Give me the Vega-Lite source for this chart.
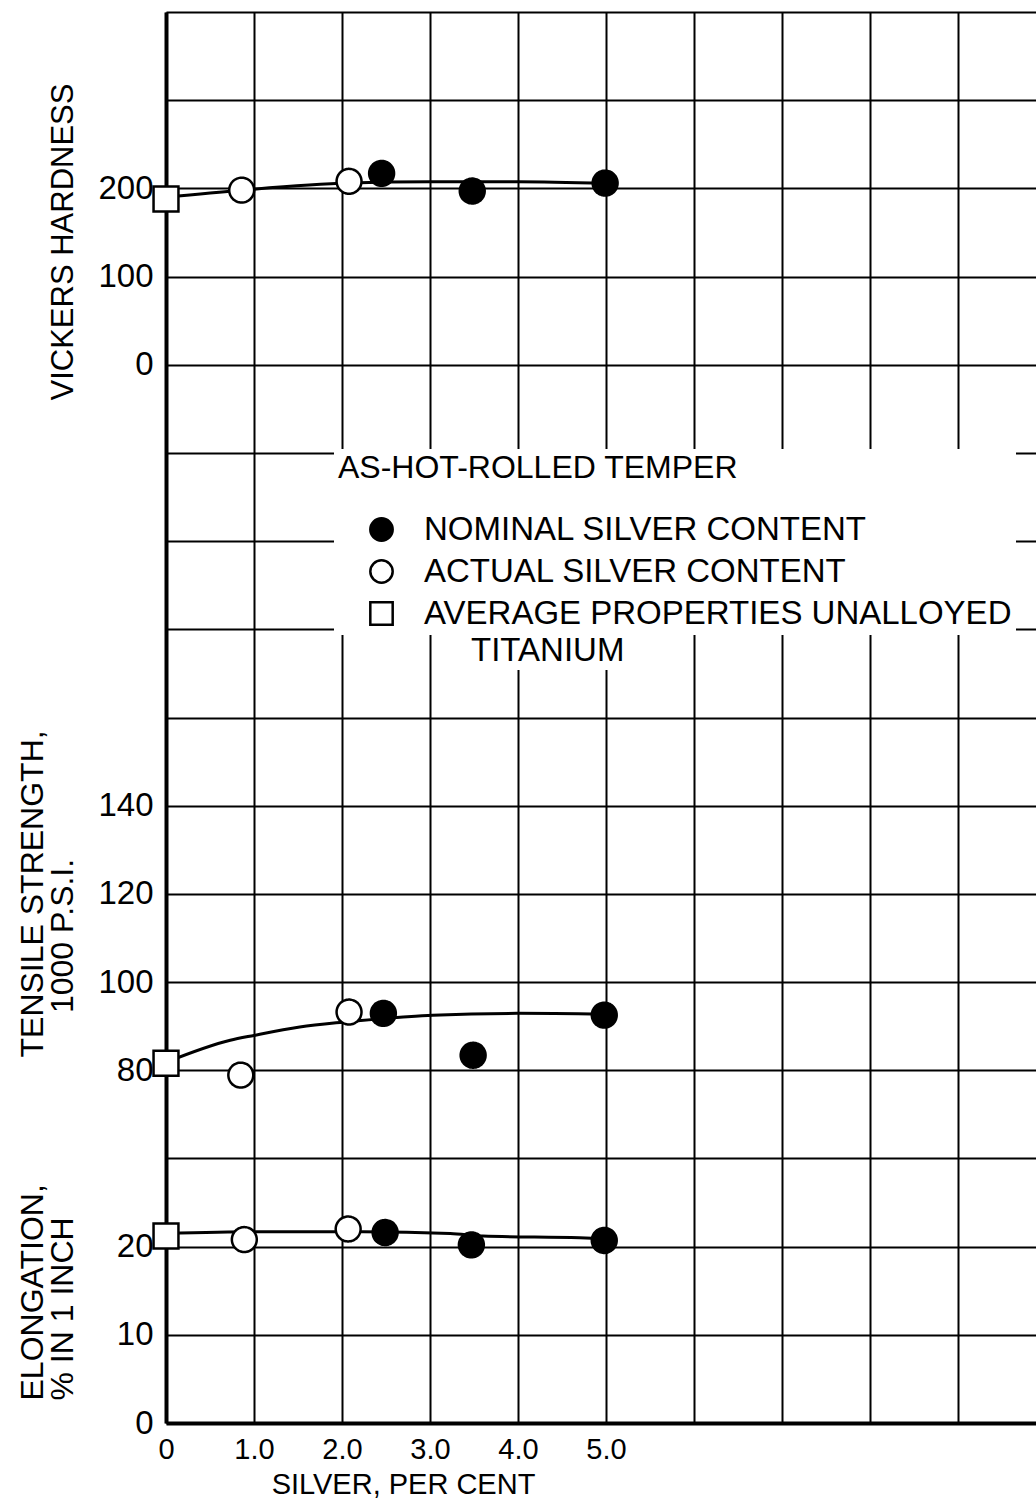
{
  "$schema": "https://vega.github.io/schema/vega-lite/v6.json",
  "autosize": {"type": "none"},
  "padding": {"left": 166, "top": 12, "right": 0, "bottom": 85},
  "width": 870,
  "height": 1411,
  "background": "white",
  "config": {
    "view": {"stroke": null},
    "font": "Liberation Sans",
    "axis": {
      "labelFont": "Liberation Sans", "titleFont": "Liberation Sans",
      "labelColor": "black", "titleColor": "black", "titleFontWeight": "normal",
      "ticks": false, "tickSize": 0, "labelFlush": false, "labelOverlap": false,
      "gridColor": "black", "gridWidth": 2, "gridOpacity": 1,
      "domainColor": "black", "domainWidth": 4
    },
    "legend": {
      "labelFont": "Liberation Sans", "titleFont": "Liberation Sans",
      "labelColor": "black", "titleColor": "black", "titleFontWeight": "normal",
      "labelLimit": 0, "titleLimit": 0,
      "symbolStrokeColor": "black", "symbolStrokeWidth": 2.5
    }
  },
  "datasets": {
    "points": [
      {"prop": "hv", "silver": 0, "type": "AVERAGE PROPERTIES UNALLOYED TITANIUM", "value": 188},
      {"prop": "hv", "silver": 0.86, "type": "ACTUAL SILVER CONTENT", "value": 198},
      {"prop": "hv", "silver": 2.08, "type": "ACTUAL SILVER CONTENT", "value": 208},
      {"prop": "hv", "silver": 2.45, "type": "NOMINAL SILVER CONTENT", "value": 217},
      {"prop": "hv", "silver": 3.48, "type": "NOMINAL SILVER CONTENT", "value": 197},
      {"prop": "hv", "silver": 4.99, "type": "NOMINAL SILVER CONTENT", "value": 206},
      {"prop": "ts", "silver": 0, "type": "AVERAGE PROPERTIES UNALLOYED TITANIUM", "value": 81.6},
      {"prop": "ts", "silver": 0.85, "type": "ACTUAL SILVER CONTENT", "value": 78.9},
      {"prop": "ts", "silver": 2.08, "type": "ACTUAL SILVER CONTENT", "value": 93.2},
      {"prop": "ts", "silver": 2.47, "type": "NOMINAL SILVER CONTENT", "value": 92.9},
      {"prop": "ts", "silver": 3.49, "type": "NOMINAL SILVER CONTENT", "value": 83.4},
      {"prop": "ts", "silver": 4.98, "type": "NOMINAL SILVER CONTENT", "value": 92.5},
      {"prop": "el", "silver": 0, "type": "AVERAGE PROPERTIES UNALLOYED TITANIUM", "value": 21.2},
      {"prop": "el", "silver": 0.89, "type": "ACTUAL SILVER CONTENT", "value": 20.8},
      {"prop": "el", "silver": 2.07, "type": "ACTUAL SILVER CONTENT", "value": 22.0},
      {"prop": "el", "silver": 2.49, "type": "NOMINAL SILVER CONTENT", "value": 21.6},
      {"prop": "el", "silver": 3.47, "type": "NOMINAL SILVER CONTENT", "value": 20.2},
      {"prop": "el", "silver": 4.98, "type": "NOMINAL SILVER CONTENT", "value": 20.7}
    ],
    "curves": [
      {"prop": "hv", "silver": 0, "value": 190},
      {"prop": "hv", "silver": 0.86, "value": 198},
      {"prop": "hv", "silver": 2.08, "value": 206},
      {"prop": "hv", "silver": 3.0, "value": 207.5},
      {"prop": "hv", "silver": 4.0, "value": 207.5},
      {"prop": "hv", "silver": 5.0, "value": 205.5},
      {"prop": "ts", "silver": 0, "value": 81.8},
      {"prop": "ts", "silver": 0.73, "value": 86.8},
      {"prop": "ts", "silver": 1.0, "value": 87.9},
      {"prop": "ts", "silver": 1.52, "value": 89.8},
      {"prop": "ts", "silver": 2.01, "value": 90.9},
      {"prop": "ts", "silver": 2.66, "value": 92.0},
      {"prop": "ts", "silver": 3.03, "value": 92.5},
      {"prop": "ts", "silver": 3.99, "value": 92.9},
      {"prop": "ts", "silver": 5.0, "value": 92.7},
      {"prop": "el", "silver": 0, "value": 21.5},
      {"prop": "el", "silver": 1.0, "value": 21.7},
      {"prop": "el", "silver": 2.24, "value": 21.7},
      {"prop": "el", "silver": 3.23, "value": 21.5},
      {"prop": "el", "silver": 3.6, "value": 21.2},
      {"prop": "el", "silver": 4.7, "value": 21.0},
      {"prop": "el", "silver": 5.0, "value": 20.9}
    ]
  },
  "encoding": {
    "x": {
      "field": "silver", "type": "quantitative",
      "scale": {"domain": [0, 9.886], "nice": false, "zero": false},
      "axis": {
        "values": [0, 1, 2, 3, 4, 5, 6, 7, 8, 9],
        "labelExpr": "datum.value > 5 ? '' : (datum.value == 0 ? '0' : format(datum.value, '.1f'))",
        "grid": true, "labelFontSize": 29, "labelPadding": 12,
        "title": "SILVER, PER CENT", "titleFontSize": 29,
        "titleX": 237, "titleY": 70, "titleAlign": "center", "titleBaseline": "alphabetic"
      }
    }
  },
  "layer": [
    {
      "encoding": {
        "y": {
          "field": "value", "type": "quantitative",
          "scale": {"domain": [-1200, 400], "nice": false, "zero": false},
          "axis": {
            "orient": "left", "values": [0, 100, 200], "grid": false, "domain": false,
            "labelFontSize": 33, "labelPadding": 13,
            "title": "VICKERS HARDNESS", "titleFontSize": 31, "titleAngle": 270,
            "titleAlign": "left", "titleBaseline": "alphabetic", "titleX": -94, "titleY": 388
          }
        }
      },
      "layer": [
        {
          "data": {"name": "curves"},
          "transform": [{"filter": "datum.prop == 'hv'"}],
          "mark": {"type": "line", "interpolate": "monotone", "color": "black", "strokeWidth": 3}
        },
        {
          "data": {"name": "points"},
          "transform": [{"filter": "datum.prop == 'hv'"}],
          "mark": {"type": "point", "filled": true, "size": 620, "strokeWidth": 2.5, "opacity": 1},
          "encoding": {
            "fill": {"field": "type", "type": "nominal",
              "scale": {"domain": ["NOMINAL SILVER CONTENT", "ACTUAL SILVER CONTENT", "AVERAGE PROPERTIES UNALLOYED TITANIUM"], "range": ["black", "white", "white"]},
              "legend": {"orient": "none", "direction": "vertical", "legendX": 168, "legendY": 437, "title": "AS-HOT-ROLLED TEMPER", "titleFontSize": 32, "labelFontSize": 33, "labelExpr": "datum.label == 'AVERAGE PROPERTIES UNALLOYED TITANIUM' ? 'AVERAGE PROPERTIES UNALLOYED' : datum.label", "fillColor": "white", "padding": 4, "symbolSize": 500, "rowPadding": 8, "titlePadding": 28, "labelOffset": 26, "symbolOffset": 27}},
            "shape": {"field": "type", "type": "nominal",
              "scale": {"domain": ["NOMINAL SILVER CONTENT", "ACTUAL SILVER CONTENT", "AVERAGE PROPERTIES UNALLOYED TITANIUM"], "range": ["circle", "circle", "square"]},
              "legend": {"orient": "none", "direction": "vertical", "legendX": 168, "legendY": 437, "title": "AS-HOT-ROLLED TEMPER", "titleFontSize": 32, "labelFontSize": 33, "labelExpr": "datum.label == 'AVERAGE PROPERTIES UNALLOYED TITANIUM' ? 'AVERAGE PROPERTIES UNALLOYED' : datum.label", "fillColor": "white", "padding": 4, "symbolSize": 500, "rowPadding": 8, "titlePadding": 28, "labelOffset": 26, "symbolOffset": 27}},
            "stroke": {"field": "type", "type": "nominal",
              "scale": {"domain": ["NOMINAL SILVER CONTENT", "ACTUAL SILVER CONTENT", "AVERAGE PROPERTIES UNALLOYED TITANIUM"], "range": ["black", "black", "black"]},
              "legend": {"orient": "none", "direction": "vertical", "legendX": 168, "legendY": 437, "title": "AS-HOT-ROLLED TEMPER", "titleFontSize": 32, "labelFontSize": 33, "labelExpr": "datum.label == 'AVERAGE PROPERTIES UNALLOYED TITANIUM' ? 'AVERAGE PROPERTIES UNALLOYED' : datum.label", "fillColor": "white", "padding": 4, "symbolSize": 500, "rowPadding": 8, "titlePadding": 28, "labelOffset": 26, "symbolOffset": 27}},
            "strokeDash": {"field": "type", "type": "nominal",
              "scale": {"domain": ["AVERAGE PROPERTIES UNALLOYED TITANIUM", "NOMINAL SILVER CONTENT", "ACTUAL SILVER CONTENT"], "range": [[1, 0], [1, 0], [1, 0]]},
              "legend": {"orient": "none", "direction": "vertical", "legendX": 266, "legendY": 620, "title": null, "values": ["AVERAGE PROPERTIES UNALLOYED TITANIUM"], "labelExpr": "'TITANIUM'", "labelFontSize": 33, "symbolOpacity": 0, "symbolSize": 100, "labelOffset": 4, "fillColor": "white", "padding": 2}}
          }
        }
      ]
    },
    {
      "encoding": {
        "y": {
          "field": "value", "type": "quantitative",
          "scale": {"domain": [0, 320], "nice": false, "zero": false},
          "axis": {
            "orient": "left", "values": [80, 100, 120, 140], "grid": false, "domain": false,
            "labelFontSize": 33, "labelPadding": 13,
            "title": ["TENSILE STRENGTH,", "\u200b\u00a0\u00a0\u00a0\u00a0\u00a01000 P.S.I."], "titleFontSize": 32, "titleAngle": 270,
            "titleLineHeight": 30,
            "titleAlign": "left", "titleBaseline": "alphabetic", "titleX": -124, "titleY": 1045
          }
        }
      },
      "layer": [
        {
          "data": {"name": "curves"},
          "transform": [{"filter": "datum.prop == 'ts'"}],
          "mark": {"type": "line", "interpolate": "monotone", "color": "black", "strokeWidth": 3}
        },
        {
          "data": {"name": "points"},
          "transform": [{"filter": "datum.prop == 'ts'"}],
          "mark": {"type": "point", "filled": true, "size": 620, "strokeWidth": 2.5, "opacity": 1},
          "encoding": {
            "fill": {"field": "type", "type": "nominal"},
            "shape": {"field": "type", "type": "nominal"},
            "stroke": {"field": "type", "type": "nominal"},
            "strokeDash": {"field": "type", "type": "nominal"}
          }
        }
      ]
    },
    {
      "encoding": {
        "y": {
          "field": "value", "type": "quantitative",
          "scale": {"domain": [0, 160], "nice": false, "zero": false},
          "axis": {
            "orient": "left", "values": [0, 10, 20, 30, 40, 50, 60, 70, 80, 90, 100, 110, 120, 130, 140, 150, 160],
            "labelExpr": "datum.value <= 20 ? datum.label : ''",
            "grid": true, "domain": true,
            "labelFontSize": 33, "labelPadding": 13,
            "title": ["ELONGATION,", "% IN 1 INCH"], "titleFontSize": 32, "titleAngle": 270,
            "titleLineHeight": 30,
            "titleAlign": "left", "titleBaseline": "alphabetic", "titleX": -124, "titleY": 1388
          }
        }
      },
      "layer": [
        {
          "data": {"name": "curves"},
          "transform": [{"filter": "datum.prop == 'el'"}],
          "mark": {"type": "line", "interpolate": "monotone", "color": "black", "strokeWidth": 3}
        },
        {
          "data": {"name": "points"},
          "transform": [{"filter": "datum.prop == 'el'"}],
          "mark": {"type": "point", "filled": true, "size": 620, "strokeWidth": 2.5, "opacity": 1},
          "encoding": {
            "fill": {"field": "type", "type": "nominal"},
            "shape": {"field": "type", "type": "nominal"},
            "stroke": {"field": "type", "type": "nominal"},
            "strokeDash": {"field": "type", "type": "nominal"}
          }
        }
      ]
    }
  ],
  "resolve": {"scale": {"y": "independent"}, "axis": {"y": "independent"}}
}
